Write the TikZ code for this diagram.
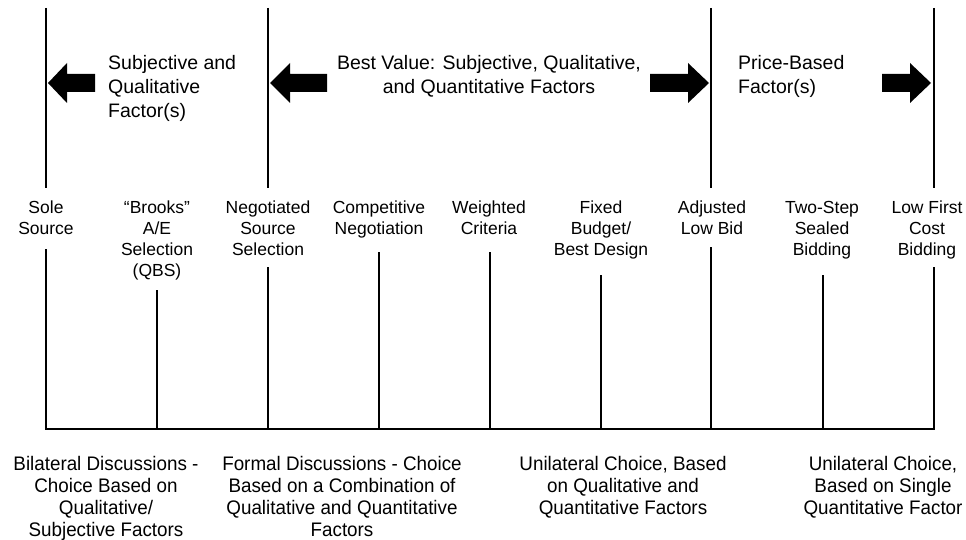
\documentclass[tikz,border=0pt]{standalone}
\usepackage{fontspec}
\setmainfont{Liberation Sans}
\newfontfamily\narrowfont{Liberation Sans}[FakeStretch=0.96]
\begin{document}
\begin{tikzpicture}[x=1pt,y=-1pt,
  topfont/.style={font=\fontsize{19.5}{24}\selectfont, inner sep=0pt},
  lab/.style={align=center, font=\fontsize{17.5}{21}\selectfont, inner sep=0pt, anchor=north},
  bot/.style={align=center, font=\narrowfont\fontsize{19.6}{22}\selectfont, inner sep=0pt, anchor=north},
  rule/.style={line width=1.6pt},
  baserule/.style={line width=2.4pt, line cap=rect},
  bigarrow/.style={fill=black}]
\useasboundingbox (0,0) rectangle (966,540);

% top headings
\node[topfont, align=left, anchor=north west] (h1) at (108,55) {Subjective and\\Qualitative\\Factor(s)};
\node[topfont, align=center, anchor=north] (h2) at (489,55) {Best Value: Subjective, Qualitative,\\and Quantitative Factors};
\node[topfont, align=left, anchor=north west] (h3) at (738,55) {Price-Based\\Factor(s)};

% arrows
\fill[bigarrow] (48,83) -- (67,63) -- (67,74) -- (95,74) -- (95,92) -- (67,92) -- (67,103) -- cycle;
\fill[bigarrow] (270,83) -- (290,63) -- (290,74) -- (327,74) -- (327,92) -- (290,92) -- (290,103) -- cycle;
\fill[bigarrow] (709,83) -- (688,63) -- (688,74) -- (650,74) -- (650,92) -- (688,92) -- (688,103) -- cycle;
\fill[bigarrow] (931,83) -- (910,63) -- (910,74) -- (882,74) -- (882,92) -- (910,92) -- (910,103) -- cycle;

% method labels
\node[lab] (l1) at (46,201) {Sole\\Source};
\node[lab] (l2) at (157,201) {“Brooks”\\A/E\\Selection\\(QBS)};
\node[lab] (l3) at (268,201) {Negotiated\\Source\\Selection};
\node[lab] (l4) at (379,201) {Competitive\\Negotiation};
\node[lab] (l5) at (489,201) {Weighted\\Criteria};
\node[lab] (l6) at (601,201) {Fixed\\Budget/\\Best Design};
\node[lab] (l7) at (712,201) {Adjusted\\Low Bid};
\node[lab] (l8) at (822,201) {Two-Step\\Sealed\\Bidding};
\node[lab] (l9) at (927,201) {Low First\\Cost\\Bidding};

% coordinates
\coordinate (u1) at (46,8);   \coordinate (v1) at (46,188);
\coordinate (u3) at (268,8);  \coordinate (v3) at (268,188);
\coordinate (u7) at (711,8);  \coordinate (v7) at (711,188);
\coordinate (u9) at (934,8);  \coordinate (v9) at (934,188);

\coordinate (t1) at (46,249);  \coordinate (b1) at (46,429);
\coordinate (t2) at (157,290); \coordinate (b2) at (157,429);
\coordinate (t3) at (268,267); \coordinate (b3) at (268,429);
\coordinate (t4) at (379,252); \coordinate (b4) at (379,429);
\coordinate (t5) at (490,252); \coordinate (b5) at (490,429);
\coordinate (t6) at (601,275); \coordinate (b6) at (601,429);
\coordinate (t7) at (711,247); \coordinate (b7) at (711,429);
\coordinate (t8) at (823,275); \coordinate (b8) at (823,429);
\coordinate (t9) at (934,267); \coordinate (b9) at (934,429);

\draw[rule] (u1) -- (v1);
\draw[rule] (u3) -- (v3);
\draw[rule] (u7) -- (v7);
\draw[rule] (u9) -- (v9);
\foreach \i in {1,...,9} { \draw[rule] (t\i) -- (b\i); }
\draw[baserule] (b1) -- (b9);

% bottom descriptions
\node[bot] (d1) at (106,456) {Bilateral Discussions -\\Choice Based on\\Qualitative/\\Subjective Factors};
\node[bot] (d2) at (342,456) {Formal Discussions - Choice\\Based on a Combination of\\Qualitative and Quantitative\\Factors};
\node[bot] (d3) at (623,456) {Unilateral Choice, Based\\on Qualitative and\\Quantitative Factors};
\node[bot] (d4) at (883,456) {Unilateral Choice,\\Based on Single\\Quantitative Factor};
\end{tikzpicture}
\end{document}
